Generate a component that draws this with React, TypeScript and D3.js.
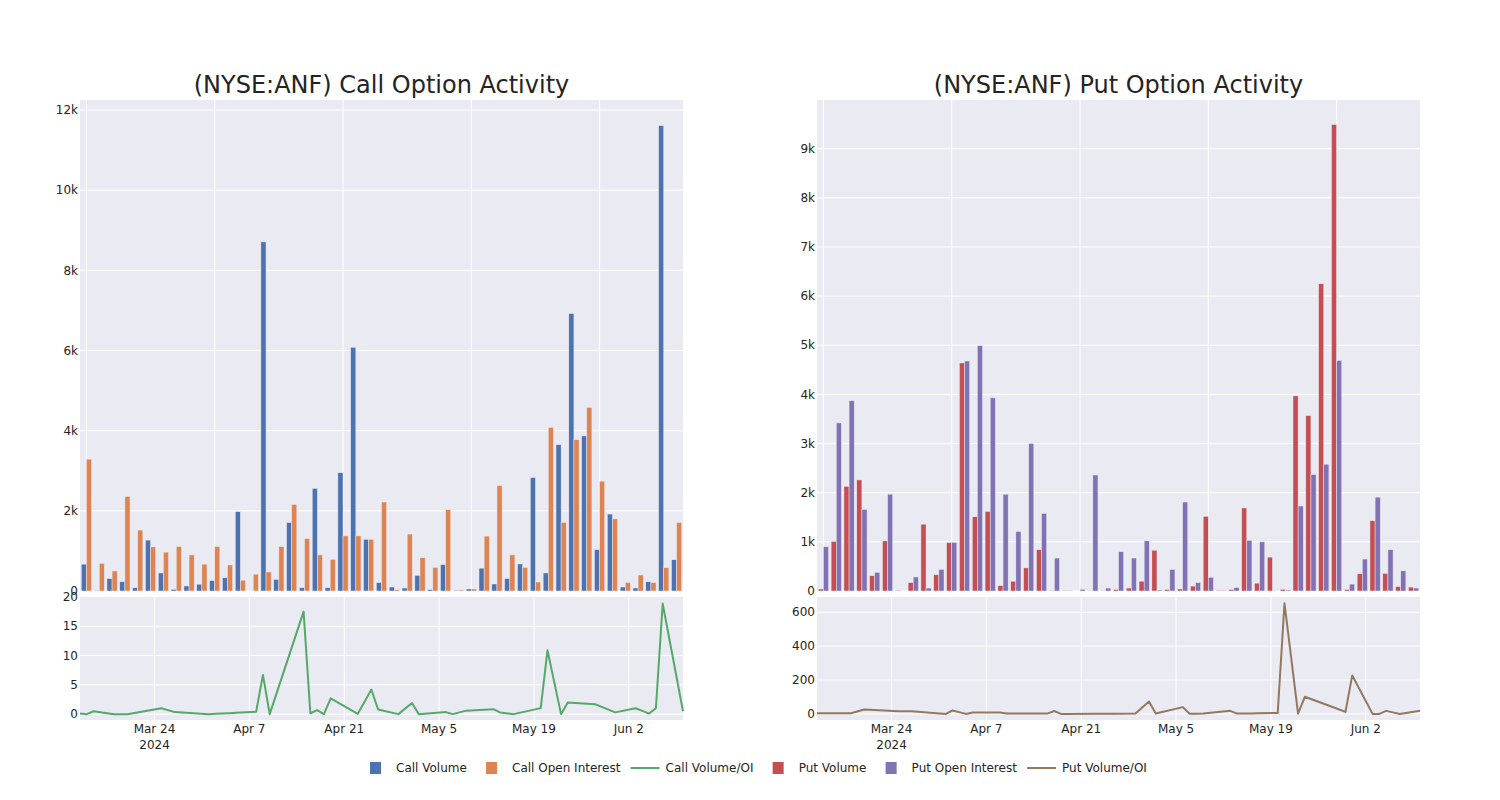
import React from 'react';
import * as d3 from 'd3';

const dates = [
  '2024-03-13', '2024-03-14', '2024-03-15', '2024-03-18', '2024-03-20', '2024-03-25', '2024-03-27',
  '2024-04-01', '2024-04-02', '2024-04-04', '2024-04-05', '2024-04-08', '2024-04-09', '2024-04-10',
  '2024-04-15', '2024-04-16', '2024-04-17', '2024-04-18', '2024-04-19', '2024-04-23', '2024-04-24',
  '2024-04-25', '2024-04-26', '2024-04-29', '2024-05-01', '2024-05-02', '2024-05-06', '2024-05-07',
  '2024-05-08', '2024-05-09', '2024-05-13', '2024-05-14', '2024-05-16', '2024-05-17', '2024-05-20',
  '2024-05-21', '2024-05-23', '2024-05-24', '2024-05-28', '2024-05-30', '2024-05-31', '2024-06-03',
  '2024-06-04', '2024-06-05', '2024-06-06', '2024-06-07', '2024-06-10',
];

const callVolume = [
  670, 10, 310, 230, 80, 1270, 450, 40, 125, 170, 260, 330, 1980, 0, 8710, 290, 1710, 80, 2560, 80,
  2950, 6080, 1290, 210, 100, 75, 390, 35, 660, 20, 50, 570, 175, 310, 675, 2830, 450, 3650, 6920,
  3870, 1030, 1920, 100, 75, 230, 11610, 780,
];
const callOpenInterest = [
  3290, 690, 500, 2360, 1520, 1100, 970, 1110, 900, 670, 1110, 650, 270, 420, 475, 1110, 2160, 1310,
  900, 790, 1375, 1375, 1290, 2220, 30, 1420, 830, 590, 2030, 25, 50, 1370, 2630, 900, 590, 225, 4080,
  1710, 3775, 4580, 2740, 1800, 210, 400, 210, 580, 1710,
];
const callVolumeOI = [
  0.1, 0, 0.5, 0, 0, 1.0, 0.35, 0, 0.06, 0.17, 0.23, 0.4, 6.7, 0, 17.5, 0.15, 0.7, 0, 2.7, 0.05, 2.1,
  4.2, 0.8, 0, 1.9, 0, 0.35, 0, 0.3, 0.6, 0.85, 0.3, 0, 0.26, 1.03, 10.9, 0, 2.0, 1.7, 0.77, 0.3, 1.0,
  0.55, 0.1, 1.0, 18.9, 0.5,
];

const putVolume = [
  40, 1010, 2130, 2260, 310, 1020, 15, 170, 1360, 330, 985, 4640, 1510, 1620, 110, 200, 470, 840, 5,
  10, 0, 3, 3, 30, 60, 200, 830, 30, 40, 100, 1520, 15, 30, 1690, 160, 690, 35, 3970, 3570, 6250, 9490,
  30, 350, 1430, 360, 90, 80,
];
const putOpenInterest = [
  900, 3420, 3870, 1660, 380, 1970, 0, 285, 60, 440, 990, 4680, 4990, 3930, 1970, 1210, 3000, 1580,
  670, 10, 35, 2360, 60, 800, 670, 1020, 20, 440, 1810, 170, 280, 15, 70, 1030, 1000, 3, 20, 1730,
  2370, 2580, 4690, 140, 650, 1910, 840, 410, 60,
];
const putVolumeOI = [
  4, 4, 4, 4, 26, 16, 15, 0, 20, 0, 8, 8, 8, 2, 2, 2, 17, 0, 0, 1, 1, 1, 1, 2, 73, 2, 40, 1, 1, 2, 18,
  2, 3, 4, 6, 653, 2, 101, 42, 12, 227, 0, 0, 18, 9, 0, 18,
];

const callBarTicks = [0, 2000, 4000, 6000, 8000, 10000, 12000];
const putBarTicks = [0, 1000, 2000, 3000, 4000, 5000, 6000, 7000, 8000, 9000];
const callRatioTicks = [0, 5, 10, 15, 20];
const putRatioTicks = [0, 200, 400, 600];
const dateTicks = ['2024-03-24', '2024-04-07', '2024-04-21', '2024-05-05', '2024-05-19', '2024-06-02'];
const dateTickLabels = ['Mar 24', 'Apr 7', 'Apr 21', 'May 5', 'May 19', 'Jun 2'];

const COLORS = {
  callVol: '#4C72B0',
  callOI: '#DD8452',
  callRatio: '#55A868',
  putVol: '#C44E52',
  putOI: '#8172B3',
  putRatio: '#937860',
  bg: '#EAEAF2',
  text: 'rgb(36,36,36)',
};

const FONT = '"DejaVu Sans", Verdana, sans-serif';
const parse = d3.utcParse('%Y-%m-%d');

const kFmt = (v: number) => (v === 0 ? '0' : `${v / 1000}k`);

function Panel(props: {
  x0: number; x1: number; title: string;
  vol: number[]; oi: number[]; ratio: number[];
  volColor: string; oiColor: string; ratioColor: string;
  barMax: number; barTicks: number[];
  ratioDomain: [number, number]; ratioTicks: number[];
}) {
  const { x0, x1 } = props;
  const topY0 = 100, topY1 = 591, botY0 = 597, botY1 = 720;

  const band = d3.scaleBand<string>().domain(dates).range([x0, x1]).padding(0);
  const sub = d3.scaleBand<string>().domain(['vol', 'oi']).range([0, band.bandwidth()])
    .paddingInner(0).paddingOuter(0.25);
  const yBar = d3.scaleLinear().domain([0, props.barMax]).range([topY1, topY0]);

  const parsed = dates.map((d) => parse(d) as Date);
  const xDate = d3.scaleUtc().domain([parsed[0], parsed[parsed.length - 1]]).range([x0, x1]);
  const yRatio = d3.scaleLinear().domain(props.ratioDomain).range([botY1, botY0]);
  const line = d3.line<number>()
    .x((_, i) => xDate(parsed[i]))
    .y((v) => yRatio(v));

  const catGrid = dates.filter((_, i) => i % 10 === 0);

  return (
    <g fontFamily={FONT} fill={COLORS.text}>
      <text x={(x0 + x1) / 2} y={93} textAnchor="middle" fontSize={24} fill={COLORS.text}>{props.title}</text>
      {/* top panel */}
      <rect x={x0} y={topY0} width={x1 - x0} height={topY1 - topY0} fill={COLORS.bg} />
      {props.barTicks.map((t) => (
        <line key={'hg' + t} x1={x0} x2={x1} y1={yBar(t)} y2={yBar(t)} stroke="#fff" strokeWidth={1} />
      ))}
      {catGrid.map((d) => (
        <line key={'vg' + d} x1={(band(d) as number) + band.bandwidth() / 2} x2={(band(d) as number) + band.bandwidth() / 2}
          y1={topY0} y2={topY1} stroke="#fff" strokeWidth={1} />
      ))}
      {dates.map((d, i) => (
        <g key={'b' + d}>
          <rect x={(band(d) as number) + (sub('vol') as number)} width={sub.bandwidth()}
            y={yBar(props.vol[i])} height={topY1 - yBar(props.vol[i])}
            fill={props.volColor} stroke={COLORS.bg} strokeWidth={0.5} />
          <rect x={(band(d) as number) + (sub('oi') as number)} width={sub.bandwidth()}
            y={yBar(props.oi[i])} height={topY1 - yBar(props.oi[i])}
            fill={props.oiColor} stroke={COLORS.bg} strokeWidth={0.5} />
        </g>
      ))}
      {props.barTicks.map((t) => (
        <text key={'yl' + t} x={x0 - 2} y={yBar(t)} dy="0.35em" textAnchor="end" fontSize={12}>{kFmt(t)}</text>
      ))}
      {/* bottom panel */}
      <rect x={x0} y={botY0} width={x1 - x0} height={botY1 - botY0} fill={COLORS.bg} />
      {props.ratioTicks.filter((t) => t <= props.ratioDomain[1] - 0.01).map((t) => (
        <line key={'rg' + t} x1={x0} x2={x1} y1={yRatio(t)} y2={yRatio(t)} stroke="#fff" strokeWidth={1} />
      ))}
      {dateTicks.map((d) => (
        <line key={'dg' + d} x1={xDate(parse(d) as Date)} x2={xDate(parse(d) as Date)} y1={botY0} y2={botY1}
          stroke="#fff" strokeWidth={1} />
      ))}
      <path d={line(props.ratio) || ''} fill="none" stroke={props.ratioColor} strokeWidth={2} strokeLinejoin="round" />
      {props.ratioTicks.map((t) => (
        <text key={'rl' + t} x={x0 - 2} y={yRatio(t)} dy="0.35em" textAnchor="end" fontSize={12}>{t}</text>
      ))}
      {dateTicks.map((d, i) => (
        <text key={'dl' + d} x={xDate(parse(d) as Date)} y={733} textAnchor="middle" fontSize={12}>
          {dateTickLabels[i]}
        </text>
      ))}
      <text x={xDate(parse(dateTicks[0]) as Date)} y={749} textAnchor="middle" fontSize={12}>2024</text>
    </g>
  );
}

const legendItems = [
  { label: 'Call Volume', color: COLORS.callVol, kind: 'bar' },
  { label: 'Call Open Interest', color: COLORS.callOI, kind: 'bar' },
  { label: 'Call Volume/OI', color: COLORS.callRatio, kind: 'line' },
  { label: 'Put Volume', color: COLORS.putVol, kind: 'bar' },
  { label: 'Put Open Interest', color: COLORS.putOI, kind: 'bar' },
  { label: 'Put Volume/OI', color: COLORS.putRatio, kind: 'line' },
];

function measure(text: string): number {
  if (typeof document === 'undefined') return text.length * 7;
  const c = document.createElement('canvas').getContext('2d');
  if (!c) return text.length * 7;
  c.font = `12px ${FONT}`;
  return c.measureText(text).width;
}

function Legend() {
  const widths = legendItems.map((it) => measure(it.label));
  const gap = 45.2;
  const starts: number[] = [];
  let x = 396;
  widths.forEach((w) => { starts.push(x); x += w + gap; });
  const cy = 768;
  return (
    <g fontFamily={FONT} fontSize={12} fill={COLORS.text}>
      {legendItems.map((it, i) => (
        <g key={it.label}>
          {it.kind === 'bar' ? (
            <rect x={starts[i] - 26} y={cy - 6} width={11} height={12} fill={it.color} />
          ) : (
            <line x1={starts[i] - 35} x2={starts[i] - 6} y1={cy} y2={cy} stroke={it.color} strokeWidth={2} />
          )}
          <text x={starts[i]} y={cy} dy="0.35em">{it.label}</text>
        </g>
      ))}
    </g>
  );
}

export default function App() {
  return (
    <svg width={1500} height={800} style={{ position: 'absolute', left: 0, top: 0, background: '#fff' }}>
      <Panel x0={80} x1={683} title="(NYSE:ANF) Call Option Activity"
        vol={callVolume} oi={callOpenInterest} ratio={callVolumeOI}
        volColor={COLORS.callVol} oiColor={COLORS.callOI} ratioColor={COLORS.callRatio}
        barMax={12250} barTicks={callBarTicks} ratioDomain={[-1, 20]} ratioTicks={callRatioTicks} />
      <Panel x0={817} x1={1420} title="(NYSE:ANF) Put Option Activity"
        vol={putVolume} oi={putOpenInterest} ratio={putVolumeOI}
        volColor={COLORS.putVol} oiColor={COLORS.putOI} ratioColor={COLORS.putRatio}
        barMax={9990} barTicks={putBarTicks} ratioDomain={[-36, 690]} ratioTicks={putRatioTicks} />
      <Legend />
    </svg>
  );
}
